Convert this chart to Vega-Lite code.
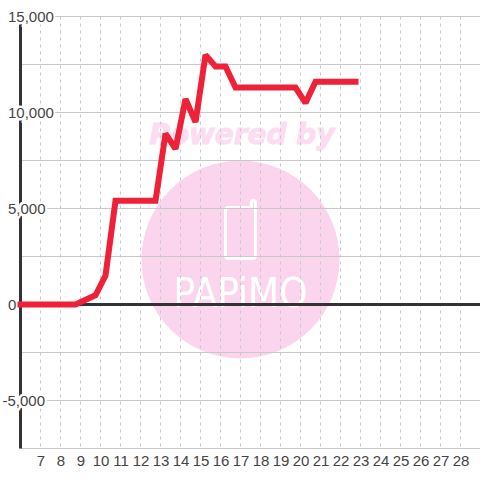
{
"$schema":"https://vega.github.io/schema/vega-lite/v6.json",
"autosize":{"type":"none"},
"padding":{"left":20.5,"top":16.5,"right":-0.5,"bottom":31.5},
"width":460,"height":432,
"background":"white",
"config":{"view":{"stroke":null}},
"resolve":{"axis":{"x":"independent","y":"independent"}},
"layer":[
{"data":{"values":[{"x":17,"y":2344}]},
 "mark":{"type":"point","filled":true,"color":"#fbd5ee","opacity":1,"size":39204,"shape":"circle","clip":false},
 "encoding":{
  "x":{"field":"x","type":"quantitative","scale":{"domain":[6,29],"nice":false,"zero":false},
   "axis":{"values":[7,8,9,10,11,12,13,14,15,16,17,18,19,20,21,22,23,24,25,26,27,28],"format":".0f","domain":false,"ticks":false,"grid":false,"title":null,"labelFont":"Liberation Sans","labelFontSize":15,"labelColor":"#444444","labelPadding":5,"labelOverlap":false,"labelFlush":false,"labelBound":false}},
  "y":{"field":"y","type":"quantitative","scale":{"domain":[-7500,15000],"nice":false,"zero":false},
   "axis":{"orient":"left","zindex":1,"values":[15000,10000,5000,0],"format":",.0f","domain":false,"ticks":false,"grid":false,"title":null,"labelFont":"Liberation Sans","labelFontSize":15,"labelColor":"#444444","labelAlign":"left","labelPadding":13,"labelOverlap":false,"labelFlush":false,"labelBound":false}}}},
{"data":{"values":[{"x":17.07,"y":8800,"t":"Powered by"}]},
 "mark":{"type":"text","font":"DejaVu Sans","fontWeight":"bold","fontStyle":"italic","fontSize":28,"color":"#fcdcf1","stroke":"#fcdcf1","strokeWidth":1,"align":"center","baseline":"middle"},
 "encoding":{"x":{"field":"x","type":"quantitative","scale":{"domain":[6,29],"nice":false,"zero":false},"axis":null},
  "y":{"field":"y","type":"quantitative","scale":{"domain":[-7500,15000],"nice":false,"zero":false},"axis":null},
  "text":{"field":"t"}}},
{"data":{"values":[{"x":17,"y":-156,"t":"PAPiMO"}]},
 "mark":{"type":"text","font":"DejaVu Sans Condensed, Liberation Sans","fontSize":40,"color":"white","align":"center","baseline":"alphabetic"},
 "encoding":{"x":{"field":"x","type":"quantitative","scale":{"domain":[6,29],"nice":false,"zero":false},"axis":null},
  "y":{"field":"y","type":"quantitative","scale":{"domain":[-7500,15000],"nice":false,"zero":false},"axis":null},
  "text":{"field":"t"}}},
{"data":{"values":[{"x":17,"y":3906}]},
 "mark":{"type":"point","filled":false,"color":"white","opacity":1,"strokeWidth":3,"size":3600,"shape":"M-.4,-.73 L.36,-.73 L.36,-.9 Q.36,-.97 .43,-.97 Q.5,-.97 .5,-.9 L.5,.87 Q.5,.97 .4,.97 L-.4,.97 Q-.5,.97 -.5,.87 L-.5,-.63 Q-.5,-.73 -.4,-.73 Z"},
 "encoding":{"x":{"field":"x","type":"quantitative","scale":{"domain":[6,29],"nice":false,"zero":false},"axis":null},
  "y":{"field":"y","type":"quantitative","scale":{"domain":[-7500,15000],"nice":false,"zero":false},"axis":null}}},
{"data":{"values":[{"x":7},{"x":8},{"x":9},{"x":10},{"x":11},{"x":12},{"x":13},{"x":14},{"x":15},{"x":16},{"x":17},{"x":18},{"x":19},{"x":20},{"x":21},{"x":22},{"x":23},{"x":24},{"x":25},{"x":26},{"x":27},{"x":28}]},
 "mark":{"type":"rule","color":"#c8c8c8","strokeWidth":1,"strokeDash":[3,4]},
 "encoding":{"x":{"field":"x","type":"quantitative","scale":{"domain":[6,29],"nice":false,"zero":false},"axis":null}}},
{"data":{"values":[{"y":15000},{"y":12500},{"y":10000},{"y":7500},{"y":5000},{"y":2500},{"y":-2500},{"y":-5000},{"y":-7500}]},
 "mark":{"type":"rule","color":"#c8c8c8","strokeWidth":1},
 "encoding":{"y":{"field":"y","type":"quantitative","scale":{"domain":[-7500,15000],"nice":false,"zero":false},"axis":null}}},
{"data":{"values":[{"y":0}]},
 "mark":{"type":"rule","color":"#333333","strokeWidth":3},
 "encoding":{"y":{"field":"y","type":"quantitative","scale":{"domain":[-7500,15000],"nice":false,"zero":false},"axis":null}}},
{"data":{"values":[{"x":6}]},
 "mark":{"type":"rule","color":"#333333","strokeWidth":3},
 "encoding":{"x":{"field":"x","type":"quantitative","scale":{"domain":[6,29],"nice":false,"zero":false},"axis":null}}},
{"data":{"values":[{"x":6,"y":15000,"t":"15,000"},{"x":6,"y":10000,"t":"10,000"},{"x":6,"y":5000,"t":"5,000"}]},
 "mark":{"type":"text","font":"Liberation Sans","fontSize":15,"color":"#ffffff","stroke":"#ffffff","strokeWidth":5,"align":"left","baseline":"middle","dx":-13},
 "encoding":{"x":{"field":"x","type":"quantitative","scale":{"domain":[6,29],"nice":false,"zero":false},"axis":null},
  "y":{"field":"y","type":"quantitative","scale":{"domain":[-7500,15000],"nice":false,"zero":false},"axis":null},
  "text":{"field":"t"}}},
{"data":{"values":[{"x":6,"y":-5000,"t":"-5,000"}]},
 "mark":{"type":"text","font":"Liberation Sans","fontSize":15,"color":"#ffffff","stroke":"#ffffff","strokeWidth":5,"align":"left","baseline":"middle","dx":-18},
 "encoding":{"x":{"field":"x","type":"quantitative","scale":{"domain":[6,29],"nice":false,"zero":false},"axis":null},
  "y":{"field":"y","type":"quantitative","scale":{"domain":[-7500,15000],"nice":false,"zero":false},"axis":null},
  "text":{"field":"t"}}},
{"data":{"values":[{"x":6,"y":-5000,"t":"-5,000"}]},
 "mark":{"type":"text","font":"Liberation Sans","fontSize":15,"color":"#444444","align":"left","baseline":"middle","dx":-18},
 "encoding":{"x":{"field":"x","type":"quantitative","scale":{"domain":[6,29],"nice":false,"zero":false},"axis":null},
  "y":{"field":"y","type":"quantitative","scale":{"domain":[-7500,15000],"nice":false,"zero":false},"axis":null},
  "text":{"field":"t"}}},
{"data":{"values":[{"x":6,"y":0},{"x":8.75,"y":0},{"x":9.75,"y":480},{"x":10.25,"y":1500},{"x":10.75,"y":5400},{"x":12.75,"y":5400},{"x":13.25,"y":8900},{"x":13.75,"y":8100},{"x":14.25,"y":10700},{"x":14.75,"y":9500},{"x":15.25,"y":13000},{"x":15.75,"y":12400},{"x":16.25,"y":12400},{"x":16.75,"y":11300},{"x":19.75,"y":11300},{"x":20.25,"y":10500},{"x":20.75,"y":11600},{"x":22.75,"y":11600}]},
 "mark":{"type":"line","color":"#ef2138","strokeWidth":6,"strokeCap":"square","strokeJoin":"miter","strokeMiterLimit":1.9},
 "encoding":{
  "x":{"field":"x","type":"quantitative","scale":{"domain":[6,29],"nice":false,"zero":false},"axis":null},
  "y":{"field":"y","type":"quantitative","scale":{"domain":[-7500,15000],"nice":false,"zero":false},"axis":null}}}
]
}
